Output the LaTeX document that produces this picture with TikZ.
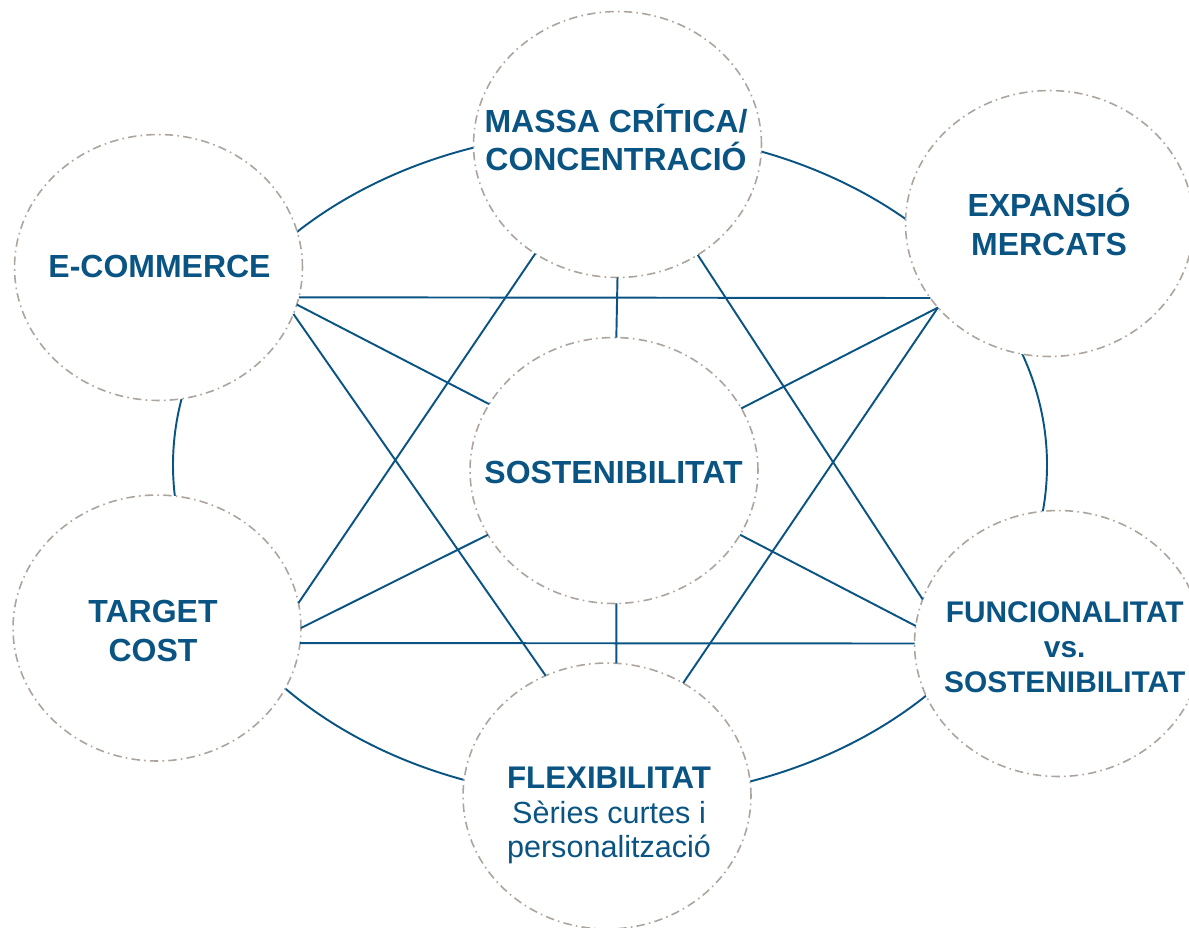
\documentclass[tikz,border=0pt]{standalone}
\usepackage{fontspec}
\setmainfont{Liberation Sans}
\usetikzlibrary{shapes.geometric}
\definecolor{inkblue}{RGB}{10,84,132}
\definecolor{ringgrey}{RGB}{172,164,157}
\tikzset{
  bubble/.style={ellipse, draw=ringgrey, line width=0.9pt,
    dash pattern=on 4.8pt off 2.4pt on 0.9pt off 2.4pt, fill=white,
    minimum width=5.76cm, minimum height=5.32cm, inner sep=0pt, outer sep=0pt},
  spoke/.style={draw=inkblue, line width=1.1pt},
  txt/.style={text=inkblue, align=center, inner sep=0pt,
    font=\fontsize{18.2}{21.7}\selectfont\bfseries},
  smalltxt/.style={txt, font=\fontsize{17}{19.8}\selectfont\bfseries},
  plaintxt/.style={txt, font=\fontsize{17.4}{19.8}\selectfont}
}

\begin{document}
\begin{tikzpicture}[x=0.02cm, y=-0.02cm]
\useasboundingbox (0,0) rectangle (1189,927);
\coordinate (hub) at (610,465);
\draw[spoke] (hub) ellipse [x radius=437, y radius=334];

\node[bubble] (massa) at (617.5,144.5) {};
\node[bubble] (ecom) at (158.5,267.5) {};
\node[bubble] (exp) at (1049.5,223.5) {};
\node[bubble] (sost) at (614,470.5) {};
\node[bubble] (target) at (157,628) {};
\node[bubble] (func) at (1058.5,643.5) {};
\node[bubble] (flex) at (607,796) {};

\node[txt] (massatxt) at (616,137.7) {MASSA CRÍTICA/\\CONCENTRACIÓ};
\node[txt] (ecomtxt) at (159.5,266.7) {E-COMMERCE};
\node[txt] (exptxt) at (1049,222) {EXPANSIÓ\\MERCATS};
\node[txt] (sosttxt) at (613.5,472.5) {SOSTENIBILITAT};
\node[txt] (targettxt) at (153,631) {TARGET\\COST};
\node[smalltxt] (functxt) at (1064.7,647.3) {FUNCIONALITAT\\vs.\\SOSTENIBILITAT};
\node[plaintxt] (flextxt) at (609,815.6)
  {{\fontsize{17.8}{19.8}\selectfont\bfseries FLEXIBILITAT}\\Sèries curtes i\\personalització};

\draw[spoke] (ecom.-12.1) -- (exp.212.4);
\draw[spoke] (target.-6.1) -- (func.180);
\draw[spoke] (ecom.-15.5) -- (sost.152.6);
\draw[spoke] (ecom.-19.8) -- (flex.117.1);
\draw[spoke] (massa.-127.5) -- (target.10.6);
\draw[spoke] (massa.-54.2) -- (func.162.9);
\draw[spoke] (massa.-90.5) -- (sost.89);
\draw[spoke] (exp.217.6) -- (sost.26.6);
\draw[spoke] (exp.217.6) -- (flex.56.5);
\draw[spoke] (sost.-153.5) -- (target.0);
\draw[spoke] (sost.-27.1) -- (func.173.3);
\draw[spoke] (sost.-89) -- (flex.86);
\end{tikzpicture}
\end{document}
